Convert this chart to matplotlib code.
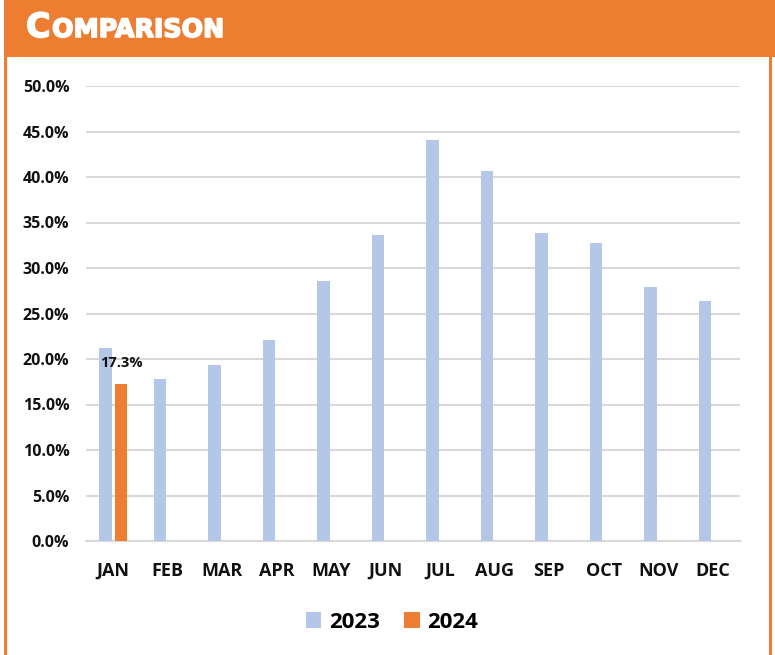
import matplotlib
matplotlib.use("Agg")
import matplotlib.pyplot as plt
from matplotlib.patches import Rectangle
from matplotlib.lines import Line2D
import matplotlib.patheffects as pe
import numpy as np

months = ["JAN", "FEB", "MAR", "APR", "MAY", "JUN", "JUL", "AUG", "SEP", "OCT", "NOV", "DEC"]
values_2023 = [21.2, 17.8, 19.3, 22.1, 28.6, 33.6, 44.1, 40.7, 33.9, 32.8, 27.9, 26.4]
values_2024 = [17.3]
series_names = ["2023", "2024"]
title = "Comparison"

ORANGE = "#ED7D31"
BLUE = "#B4C7E7"
FONT = ["Open Sans", "DejaVu Sans"]

fig = plt.figure(figsize=(7.75, 6.55), dpi=100)
W, H = 775, 655

# Header band and border
fig.patches.append(Rectangle((4 / W, 1 - 57 / H), 1 - 4 / W, 57 / H, transform=fig.transFigure,
                             facecolor=ORANGE, edgecolor="none", zorder=0))
fig.lines.append(Line2D([5 / W, 5 / W], [0, 1 - 57 / H], transform=fig.transFigure, color=ORANGE, lw=2.2))
fig.lines.append(Line2D([770 / W, 770 / W], [0, 1 - 57 / H], transform=fig.transFigure, color=ORANGE, lw=2.2))

# Title in small caps
stroke = [pe.withStroke(linewidth=1.2, foreground="white")]
t1 = fig.text(26 / W, 1 - 37 / H, title[0].upper(), color="white", fontsize=24, fontweight="heavy",
              family=["DejaVu Sans"], va="baseline", ha="left", path_effects=stroke)
fig.canvas.draw()
bb = t1.get_window_extent()
fig.text(bb.x1 / W + 0.002, 1 - 37 / H, title[1:].upper(), color="white", fontsize=18.2, fontweight="heavy",
         family=["DejaVu Sans"], va="baseline", ha="left", path_effects=stroke)

ax = fig.add_axes([86 / W, 1 - 541 / H, 654 / W, (541 - 86) / H])
x = np.arange(len(months))
bw = 0.23
off = 0.1425
ax.bar(x - off, values_2023, width=bw, color=BLUE, label=series_names[0], zorder=3)
x24 = x[:len(values_2024)]
ax.bar(x24 + off, values_2024, width=bw, color=ORANGE, label=series_names[1], zorder=3)
for xi, v in zip(x24, values_2024):
    ax.annotate(f"{v:.1f}%", (xi + off, v), xytext=(0, 10), textcoords="offset points",
                ha="center", va="bottom", fontsize=10.5, fontweight="bold", family=FONT, color="#111111")

ax.set_xlim(-0.5, len(months) - 0.5)
ax.set_ylim(0, 50)
ax.set_yticks(np.arange(0, 50.1, 5))
ax.set_yticklabels([f"{v:.1f}%" for v in np.arange(0, 50.1, 5)])
ax.set_xticks(x)
ax.set_xticklabels(months)
ax.grid(axis="y", color="#D9D9D9", lw=1.5, zorder=0)
ax.set_axisbelow(True)
for s in ["top", "right", "left"]:
    ax.spines[s].set_visible(False)
ax.spines["bottom"].set_color("#D9D9D9")
ax.spines["bottom"].set_linewidth(1.5)
ax.tick_params(axis="both", length=0, labelcolor="#111111")
ax.tick_params(axis="x", pad=15, labelsize=13)
ax.tick_params(axis="y", pad=12, labelsize=11.5)
for lab in ax.get_xticklabels() + ax.get_yticklabels():
    lab.set_fontweight("bold")
    lab.set_family(FONT)

leg = fig.legend(loc="center", bbox_to_anchor=(392 / W, 1 - 622 / H), ncol=2, frameon=False,
                 prop={"family": FONT, "weight": "bold", "size": 16}, handlelength=0.7, handleheight=0.7,
                 handletextpad=0.35, columnspacing=1.1)

fig.savefig("out.png", dpi=100)
